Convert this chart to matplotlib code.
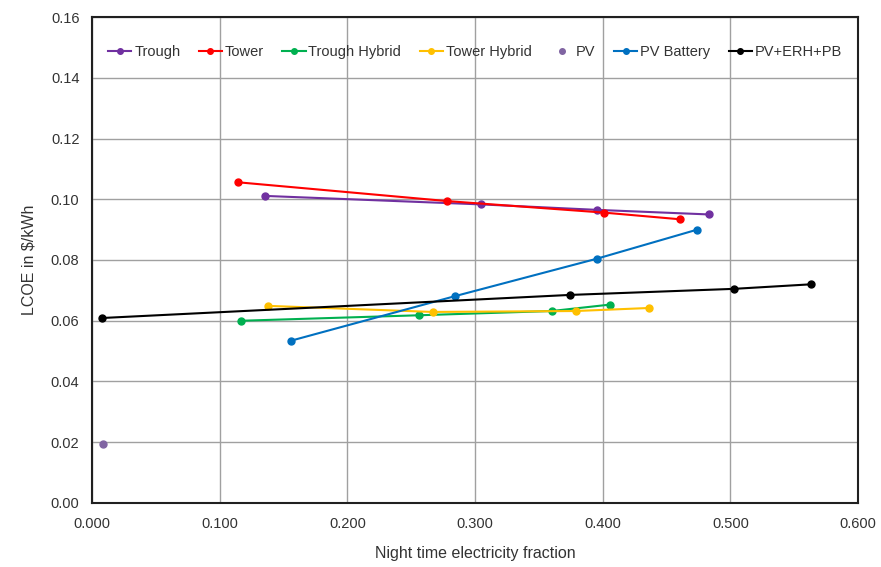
import matplotlib.pyplot as plt
from matplotlib.ticker import FormatStrFormatter

plt.rcParams['font.family'] = ['Liberation Sans', 'DejaVu Sans']

# Night time electricity fraction (x) and LCOE in $/kWh (y)
trough_x = [0.1355, 0.305, 0.3957, 0.483]
trough_y = [0.1011, 0.0983, 0.0965, 0.0950]

tower_x = [0.114, 0.278, 0.401, 0.4607]
tower_y = [0.1056, 0.0994, 0.0956, 0.0934]

trough_hyb_x = [0.117, 0.2558, 0.360, 0.4054]
trough_hyb_y = [0.0600, 0.0618, 0.0632, 0.0653]

tower_hyb_x = [0.1378, 0.2668, 0.3788, 0.4362]
tower_hyb_y = [0.0649, 0.0629, 0.0632, 0.0642]

pv_x = [0.0086]
pv_y = [0.0194]

pv_batt_x = [0.1556, 0.2843, 0.3952, 0.474]
pv_batt_y = [0.0534, 0.0681, 0.0804, 0.0900]

pv_erh_x = [0.0078, 0.3743, 0.5027, 0.5633]
pv_erh_y = [0.0609, 0.0685, 0.0705, 0.0720]

fig = plt.figure(figsize=(8.81, 5.67), dpi=100)
ax = fig.add_axes([0.1044, 0.1129, 0.8696, 0.8571])

kw = dict(marker='o', markersize=5, linewidth=1.5)
ax.plot(trough_x, trough_y, color='#7030A0', label='Trough', **kw)
ax.plot(tower_x, tower_y, color='#FF0000', label='Tower', **kw)
ax.plot(trough_hyb_x, trough_hyb_y, color='#00B050', label='Trough Hybrid', **kw)
ax.plot(tower_hyb_x, tower_hyb_y, color='#FFC000', label='Tower Hybrid', **kw)
ax.plot(pv_x, pv_y, color='#8064A2', linestyle='none', marker='o', markersize=5, label='PV')
ax.plot(pv_batt_x, pv_batt_y, color='#0070C0', label='PV Battery', **kw)
ax.plot(pv_erh_x, pv_erh_y, color='#000000', label='PV+ERH+PB', **kw)

ax.set_xlim(0, 0.6)
ax.set_ylim(0, 0.16)
ax.set_xticks([0, 0.1, 0.2, 0.3, 0.4, 0.5, 0.6])
ax.set_yticks([0, 0.02, 0.04, 0.06, 0.08, 0.1, 0.12, 0.14, 0.16])
ax.xaxis.set_major_formatter(FormatStrFormatter('%.3f'))
ax.yaxis.set_major_formatter(FormatStrFormatter('%.2f'))
ax.tick_params(labelsize=10.5, length=0, labelcolor='#333333')
ax.tick_params(axis='x', pad=10)
ax.tick_params(axis='y', pad=9)
ax.grid(color='#a0a0a0', linewidth=1)
ax.set_axisbelow(True)
for s in ax.spines.values():
    s.set_color('#202020')
    s.set_linewidth(1.5)

ax.set_xlabel('Night time electricity fraction', fontsize=11.5, labelpad=11, color='#333333')
ax.set_ylabel('LCOE in $/kWh', fontsize=11.5, labelpad=10, color='#333333')

leg = ax.legend(loc='center', bbox_to_anchor=(0.5, 0.928), ncol=7, frameon=False,
                fontsize=10.5, handlelength=1.6, handletextpad=0.2, columnspacing=1.25,
                markerscale=0.8)
for t in leg.get_texts():
    t.set_color('#333333')

fig.savefig('out.png', dpi=100, facecolor='white')
